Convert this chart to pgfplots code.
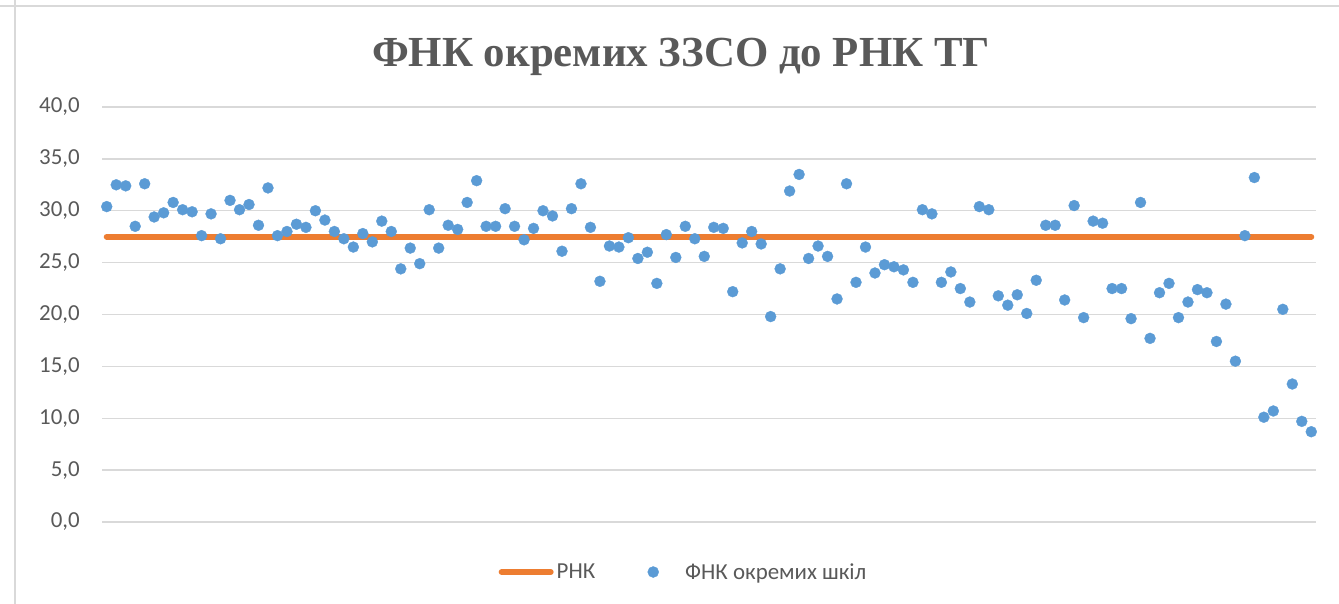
\documentclass[border=0pt]{standalone}
\usepackage{fontspec}
\setmainfont{Carlito}
\newfontfamily\titlefont{Liberation Serif}
\usepackage{pgfplots}
\usepackage{pgfplotstable}
\pgfplotsset{compat=1.18}
\definecolor{txtgray}{HTML}{595959}
\definecolor{gridgray}{HTML}{D9D9D9}
\definecolor{xlorange}{HTML}{ED7D31}
\definecolor{xlblue}{HTML}{5B9BD5}

\pgfplotstableread{
i v
1 30.4
2 32.5
3 32.4
4 28.5
5 32.6
6 29.4
7 29.8
8 30.8
9 30.1
10 29.9
11 27.6
12 29.7
13 27.3
14 31.0
15 30.1
16 30.6
17 28.6
18 32.2
19 27.6
20 28.0
21 28.7
22 28.4
23 30.0
24 29.1
25 28.0
26 27.3
27 26.5
28 27.8
29 27.0
30 29.0
31 28.0
32 24.4
33 26.4
34 24.9
35 30.1
36 26.4
37 28.6
38 28.2
39 30.8
40 32.9
41 28.5
42 28.5
43 30.2
44 28.5
45 27.2
46 28.3
47 30.0
48 29.5
49 26.1
50 30.2
51 32.6
52 28.4
53 23.2
54 26.6
55 26.5
56 27.4
57 25.4
58 26.0
59 23.0
60 27.7
61 25.5
62 28.5
63 27.3
64 25.6
65 28.4
66 28.3
67 22.2
68 26.9
69 28.0
70 26.8
71 19.8
72 24.4
73 31.9
74 33.5
75 25.4
76 26.6
77 25.6
78 21.5
79 32.6
80 23.1
81 26.5
82 24.0
83 24.8
84 24.6
85 24.3
86 23.1
87 30.1
88 29.7
89 23.1
90 24.1
91 22.5
92 21.2
93 30.4
94 30.1
95 21.8
96 20.9
97 21.9
98 20.1
99 23.3
100 28.6
101 28.6
102 21.4
103 30.5
104 19.7
105 29.0
106 28.8
107 22.5
108 22.5
109 19.6
110 30.8
111 17.7
112 22.1
113 23.0
114 19.7
115 21.2
116 22.4
117 22.1
118 17.4
119 21.0
120 15.5
121 27.6
122 33.2
123 10.1
124 10.7
125 20.5
126 13.3
127 9.7
128 8.7
}\fnkdata

\begin{document}
\begin{tikzpicture}
\path[use as bounding box] (0,0) rectangle (1339bp,604bp);
\draw[gridgray, line width=2bp] (0,598.3bp) -- (1339bp,598.3bp);
\draw[gridgray, line width=2bp] (14.7bp,0) -- (14.7bp,604bp);
\node[anchor=base, text=txtgray, inner sep=0pt, font=\titlefont\bfseries\fontsize{43}{48}\selectfont] at (681bp,537bp) {ФНК окремих ЗЗСО до РНК ТГ};
\begin{axis}[
  at={(102bp,82bp)}, anchor=south west, scale only axis,
  width=1214bp, height=415bp,
  xmin=0.5, xmax=128.5, ymin=0, ymax=40,
  clip=false,
  axis line style={draw=none},
  xtick=\empty, ytick={0,5,...,40},
  major tick length=0pt,
  ymajorgrids, grid style={gridgray, line width=1.3bp},
  /pgf/number format/assume math mode=true,
  yticklabel style={text=txtgray, font=\fontsize{23}{28}\selectfont, inner sep=0pt, xshift=-22bp},
  y tick label style={/pgf/number format/.cd, fixed, fixed zerofill, precision=1, use comma},
  legend style={draw=none, fill=none, at={(0.4782,-0.1205)}, anchor=center,
    font=\fontsize{23}{28}\selectfont, text=txtgray, inner sep=0pt,
    nodes={inner sep=0pt},
    /tikz/every even column/.append style={column sep=0pt},
    /tikz/every odd column/.append style={column sep=0pt}},
  legend columns=2,
]
\addplot[xlorange, line width=6bp, line cap=round,
  legend image code/.code={\draw[xlorange, line width=6bp, line cap=round] (3bp,0bp) -- (52bp,0bp); \path[draw=none, fill=none] (0bp,0bp) -- (58bp,0bp);}]
  coordinates {(1,27.5) (128,27.5)};
\addlegendentry{РНК}
\addplot[only marks, mark=*, mark size=5.5bp, color=xlblue, mark options={fill=xlblue, draw=xlblue, line width=0.3bp},
  legend image code/.code={\path[draw=none, fill=none] (-58bp,0bp) -- (32bp,0bp); \fill[xlblue] (0bp,0bp) circle (5.5bp);}]
  table[x=i, y=v] {\fnkdata};
\addlegendentry{ФНК окремих шкіл}
\end{axis}
\end{tikzpicture}
\end{document}
